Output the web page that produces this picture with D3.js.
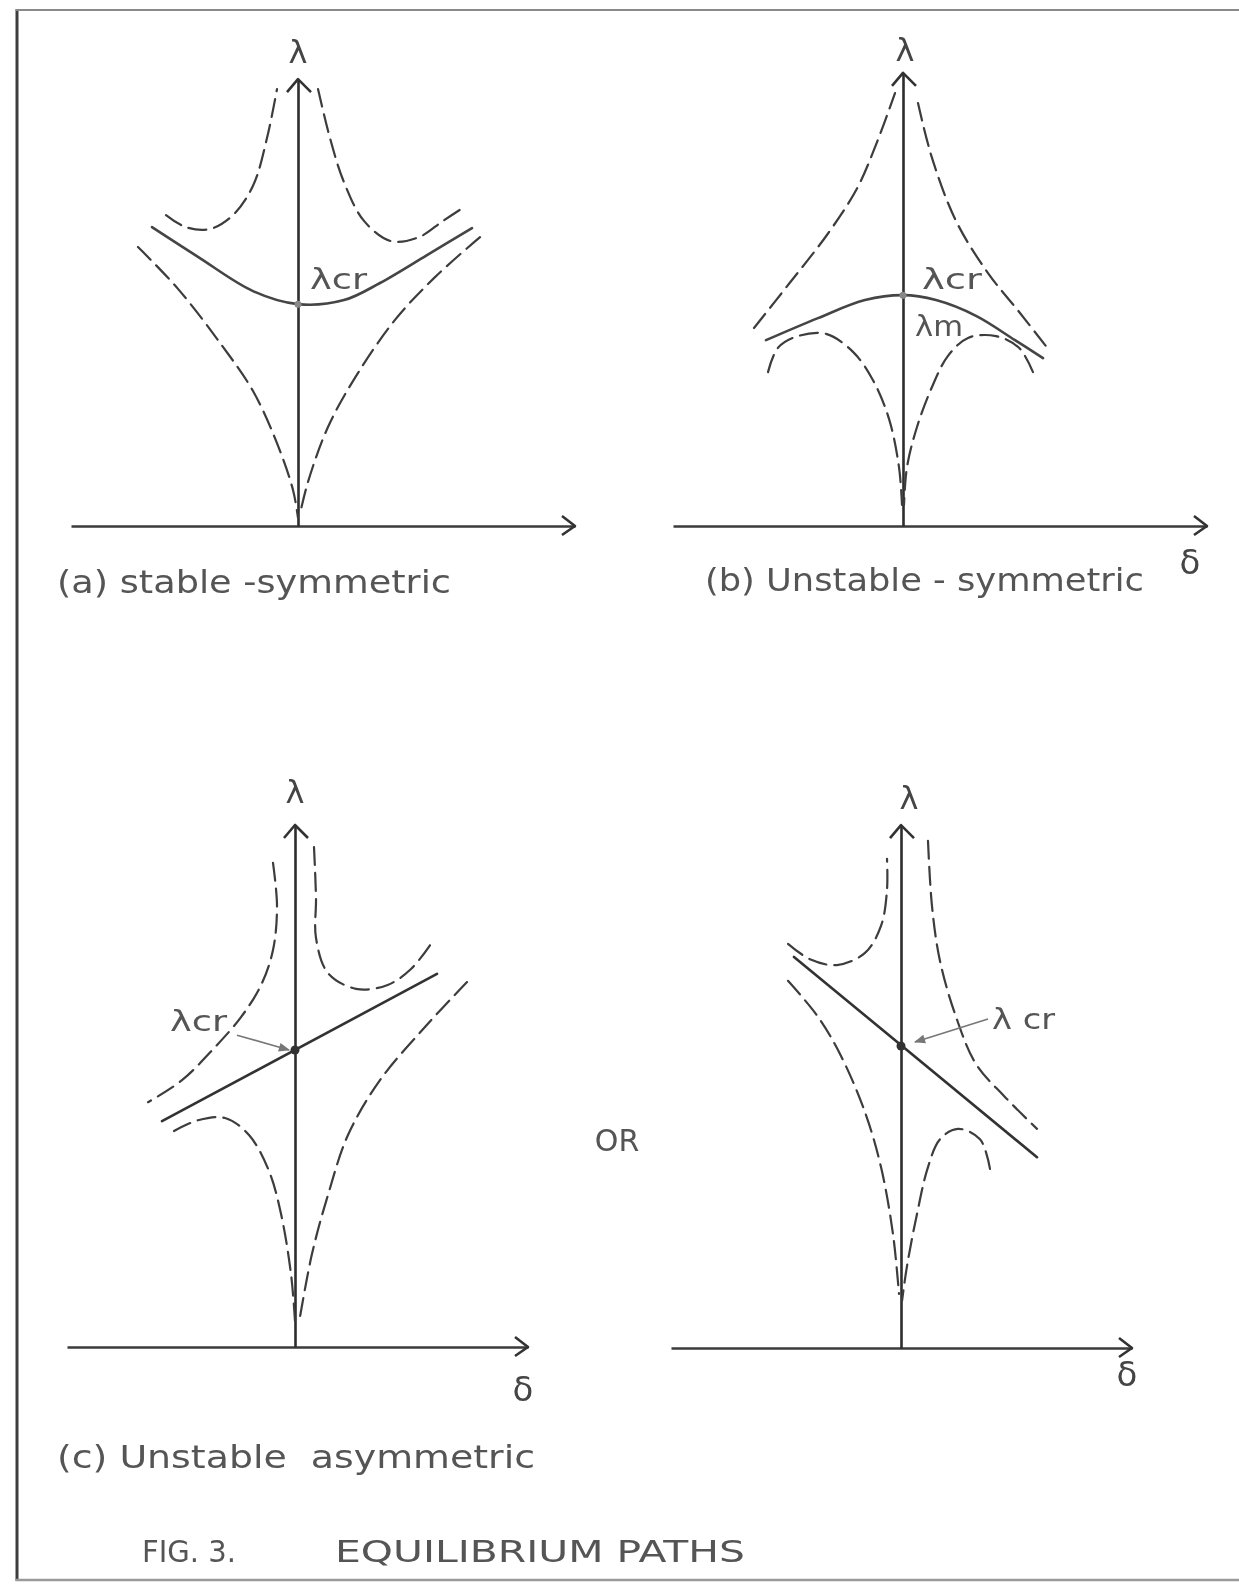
<!DOCTYPE html>
<html>
<head>
<meta charset="utf-8">
<title>Fig. 3 Equilibrium paths</title>
<script src="https://cdn.jsdelivr.net/npm/d3@7"></script>
<style>
  html, body { margin: 0; padding: 0; background: #fff; }
  svg { display: block; }
  text { font-family: "DejaVu Sans", "Noto Sans", sans-serif; fill: #555; white-space: pre; }
</style>
</head>
<body>
<svg id="fig" width="1239" height="1590"></svg>
<script>
// ---------------------------------------------------------------
// Data: deflection δ (horizontal) and load factor λ (vertical),
// in normalised units, one set of branches per panel.
// ---------------------------------------------------------------
const panelKeys = ["a", "b", "c", "d"];
const captions = ["(a) stable -symmetric", "(b) Unstable - symmetric", "(c) Unstable  asymmetric"];
const figureNumber = "FIG. 3.";
const figureTitle = "EQUILIBRIUM PATHS";

// axis extents per panel
const axisDeltaMin = [-0.908, -0.920, -0.912, -0.920];
const axisDeltaMax = [1.108, 1.216, 0.932, 0.924];
const axisLambdaMax = [0.993, 1.007, 1.160, 1.162];

// critical (bifurcation) load per panel
const lambdaCr = [0.493, 0.513, 0.660, 0.671];

// (a) stable-symmetric
const aPrimary = [[-0.584, 0.664], [-0.400, 0.598], [-0.180, 0.522], [0, 0.493], [0.184, 0.502], [0.328, 0.540], [0.516, 0.602], [0.696, 0.662]];
const aUpperLeft = [[-0.528, 0.691], [-0.448, 0.664], [-0.352, 0.660], [-0.260, 0.691], [-0.180, 0.756], [-0.124, 0.862], [-0.084, 0.971]];
const aUpperRight = [[0.080, 0.971], [0.128, 0.862], [0.184, 0.764], [0.264, 0.678], [0.372, 0.633], [0.484, 0.642], [0.580, 0.678], [0.660, 0.707]];
const aLowerLeft = [[-0.640, 0.620], [-0.480, 0.527], [-0.308, 0.404], [-0.180, 0.300], [-0.084, 0.184], [-0.020, 0.080], [0, 0.018]];
const aLowerRight = [[0.728, 0.642], [0.548, 0.553], [0.388, 0.458], [0.232, 0.333], [0.120, 0.220], [0.040, 0.098], [0.008, 0.027]];

// (b) unstable-symmetric
const bPrimary = [[-0.548, 0.413], [-0.340, 0.462], [-0.152, 0.502], [0, 0.513], [0.132, 0.502], [0.292, 0.467], [0.448, 0.413], [0.560, 0.373]];
const bUpperLeft = [[-0.596, 0.440], [-0.452, 0.541], [-0.300, 0.650], [-0.184, 0.750], [-0.104, 0.853], [-0.032, 0.962]];
const bUpperRight = [[0.060, 0.940], [0.116, 0.818], [0.212, 0.678], [0.340, 0.562], [0.464, 0.476], [0.584, 0.391]];
const bLowerLeft = [[-0.540, 0.342], [-0.500, 0.396], [-0.420, 0.422], [-0.308, 0.427], [-0.200, 0.387], [-0.120, 0.324], [-0.056, 0.238], [-0.016, 0.131], [-0.004, 0.047]];
const bLowerRight = [[0.520, 0.342], [0.464, 0.396], [0.372, 0.422], [0.260, 0.418], [0.180, 0.378], [0.116, 0.309], [0.056, 0.220], [0.016, 0.131], [0.004, 0.047]];

// (c) unstable-asymmetric, rising branch
const cPrimary = [[-0.532, 0.502], [0.568, 0.829]];
const cUpperLeft = [[-0.088, 1.076], [-0.072, 0.980], [-0.088, 0.882], [-0.136, 0.804], [-0.216, 0.733], [-0.324, 0.664], [-0.452, 0.593], [-0.588, 0.544]];
const cUpperRight = [[0.076, 1.111], [0.084, 0.998], [0.084, 0.909], [0.132, 0.831], [0.244, 0.796], [0.368, 0.804], [0.464, 0.840], [0.544, 0.896]];
const cLowerLeft = [[-0.484, 0.480], [-0.388, 0.504], [-0.280, 0.509], [-0.184, 0.471], [-0.104, 0.391], [-0.056, 0.296], [-0.016, 0.162], [0, 0.058]];
const cLowerRight = [[0.688, 0.811], [0.528, 0.716], [0.340, 0.593], [0.212, 0.471], [0.132, 0.338], [0.068, 0.207], [0.020, 0.067]];

// (c) unstable-asymmetric, falling branch
const dPrimary = [[-0.428, 0.869], [0.544, 0.424]];
const dUpperLeft = [[-0.452, 0.898], [-0.364, 0.864], [-0.256, 0.851], [-0.144, 0.878], [-0.080, 0.938], [-0.056, 1.018], [-0.056, 1.087]];
const dUpperRight = [[0.108, 1.127], [0.124, 0.982], [0.156, 0.860], [0.220, 0.736], [0.300, 0.631], [0.412, 0.560], [0.544, 0.487]];
const dLowerLeft = [[-0.452, 0.816], [-0.332, 0.736], [-0.240, 0.649], [-0.144, 0.524], [-0.080, 0.402], [-0.032, 0.253], [-0.008, 0.120]];
const dLowerRight = [[0.356, 0.398], [0.316, 0.464], [0.228, 0.487], [0.156, 0.464], [0.108, 0.402], [0.064, 0.298], [0.024, 0.182], [0.004, 0.104]];

const primaryPaths = [aPrimary, bPrimary, cPrimary, dPrimary];
const dashedPaths = [
  [aUpperLeft, aUpperRight, aLowerLeft, aLowerRight],
  [bUpperLeft, bUpperRight, bLowerLeft, bLowerRight],
  [cUpperLeft, cUpperRight, cLowerLeft, cLowerRight],
  [dUpperLeft, dUpperRight, dLowerLeft, dLowerRight]
];

// ---------------------------------------------------------------
// Layout
// ---------------------------------------------------------------
const W = 1239, H = 1590;
const origins = [[298, 526], [903, 526], [295, 1347], [901, 1348]];
const unitX = 250, unitY = 450;
const lambdaLabelOffset = [[0, -16], [2, -12], [0, -22], [8, -16]];
const deltaLabelOffset = [null, [-17, 48], [-5, 54], [-5, 38]];

const svg = d3.select("#fig").attr("viewBox", `0 0 ${W} ${H}`);
const defs = svg.append("defs");
defs.append("filter").attr("id", "soft")
  .append("feGaussianBlur").attr("stdDeviation", 0.55);
defs.append("marker").attr("id", "ptr")
  .attr("viewBox", "0 0 10 10").attr("refX", 9).attr("refY", 5)
  .attr("markerWidth", 9).attr("markerHeight", 7).attr("orient", "auto")
  .append("path").attr("d", "M0,1 L10,5 L0,9 Z").attr("fill", "#777");

const root = svg.append("g").attr("filter", "url(#soft)");

// frame
root.append("line").attr("x1", 17).attr("y1", 9).attr("x2", 17).attr("y2", 1581)
  .attr("stroke", "#3c3c3c").attr("stroke-width", 3);
root.append("line").attr("x1", 16).attr("y1", 10).attr("x2", W).attr("y2", 10)
  .attr("stroke", "#8a8a8a").attr("stroke-width", 2);
root.append("line").attr("x1", 16).attr("y1", 1580).attr("x2", W).attr("y2", 1580)
  .attr("stroke", "#9a9a9a").attr("stroke-width", 2.5);

const scales = origins.map(([ox, oy]) => ({
  x: d3.scaleLinear().domain([0, 1]).range([ox, ox + unitX]),
  y: d3.scaleLinear().domain([0, 1]).range([oy, oy - unitY])
}));

panelKeys.forEach((key, i) => {
  const { x, y } = scales[i];
  const g = root.append("g").attr("class", "panel-" + key);

  // axes drawn as bare domain lines
  const xAxisScale = x.copy().domain([axisDeltaMin[i], axisDeltaMax[i]])
    .range([x(axisDeltaMin[i]), x(axisDeltaMax[i])]);
  const yAxisScale = y.copy().domain([0, axisLambdaMax[i]])
    .range([y(0), y(axisLambdaMax[i])]);

  g.append("g").attr("transform", `translate(0,${y(0)})`)
    .call(d3.axisBottom(xAxisScale).tickValues([]).tickSizeOuter(0))
    .call(s => s.select(".domain").attr("stroke", "#3a3a3a").attr("stroke-width", 2.4));
  g.append("g").attr("transform", `translate(${x(0)},0)`)
    .call(d3.axisLeft(yAxisScale).tickValues([]).tickSizeOuter(0))
    .call(s => s.select(".domain").attr("stroke", "#2e2e2e").attr("stroke-width", 2.6));

  // arrow heads
  const hx = x(axisDeltaMax[i]), hy = y(0);
  g.append("path").attr("d", `M${hx - 13},${hy - 10} L${hx},${hy} L${hx - 13},${hy + 9}`)
    .attr("fill", "none").attr("stroke", "#333").attr("stroke-width", 2.6).attr("stroke-linejoin", "round");
  const vx = x(0), vy = y(axisLambdaMax[i]);
  g.append("path").attr("d", `M${vx - 11},${vy + 13} L${vx},${vy} L${vx + 13},${vy + 13}`)
    .attr("fill", "none").attr("stroke", "#333").attr("stroke-width", 2.6).attr("stroke-linejoin", "round");

  // axis names
  g.append("text").attr("x", vx + lambdaLabelOffset[i][0]).attr("y", vy + lambdaLabelOffset[i][1])
    .attr("text-anchor", "middle").attr("font-size", 32).style("fill", "#444").text("λ");
  if (deltaLabelOffset[i]) {
    g.append("text").attr("x", hx + deltaLabelOffset[i][0]).attr("y", hy + deltaLabelOffset[i][1])
      .attr("text-anchor", "middle").attr("font-size", 34)
      .style("fill", "#444").text("δ");
  }

  const line = d3.line().x(d => x(d[0])).y(d => y(d[1])).curve(d3.curveCatmullRom.alpha(0.5));

  // post-buckling (imperfect) paths, dashed
  dashedPaths[i].forEach(p => {
    g.append("path").attr("d", line(p)).attr("fill", "none")
      .attr("stroke", "#3c3c3c").attr("stroke-width", 2.2)
      .attr("stroke-dasharray", "18,8").attr("stroke-linecap", "round");
  });

  // perfect-system path, solid
  g.append("path").attr("d", line(primaryPaths[i])).attr("fill", "none")
    .attr("stroke", i < 2 ? "#454545" : "#333").attr("stroke-width", 2.6)
    .attr("stroke-linecap", "round");

  // bifurcation point
  g.append("circle").attr("cx", x(0)).attr("cy", y(lambdaCr[i]))
    .attr("r", i < 2 ? 3.5 : 4.5).attr("fill", i < 2 ? "#888" : "#333");
});

// λcr / λm annotations
const lab = (i, d, l, t, w) => root.append("text")
  .attr("x", scales[i].x(d)).attr("y", scales[i].y(l))
  .attr("font-size", 28).attr("textLength", w).attr("lengthAdjust", "spacingAndGlyphs").text(t);

lab(0, 0.048, 0.527, "λcr", 57);
lab(1, 0.076, 0.527, "λcr", 60);
lab(1, 0.048, 0.422, "λm", 48);
lab(2, -0.500, 0.702, "λcr", 57);
lab(3, 0.364, 0.709, "λ cr", 63);

// pointers to the critical points in (c)
const pointer = (i, from, to) => root.append("line")
  .attr("x1", scales[i].x(from[0])).attr("y1", scales[i].y(from[1]))
  .attr("x2", scales[i].x(to[0])).attr("y2", scales[i].y(to[1]))
  .attr("stroke", "#777").attr("stroke-width", 1.6).attr("marker-end", "url(#ptr)");
pointer(2, [-0.232, 0.693], [-0.024, 0.660]);
pointer(3, [0.348, 0.731], [0.056, 0.680]);

// "OR" between the two asymmetric sketches
root.append("text").attr("x", 617).attr("y", 1151).attr("text-anchor", "middle")
  .attr("font-size", 30).text("OR");

// captions
const cap = (x, yb, w, t, size) => root.append("text").attr("x", x).attr("y", yb)
  .attr("font-size", size || 32).attr("textLength", w).attr("lengthAdjust", "spacingAndGlyphs").text(t);
cap(57, 593, 394, captions[0]);
cap(705, 591, 439, captions[1]);
cap(57, 1468, 478, captions[2]);
cap(142, 1562, 94, figureNumber, 31);
cap(335, 1562, 410, figureTitle, 31);
</script>
</body>
</html>
